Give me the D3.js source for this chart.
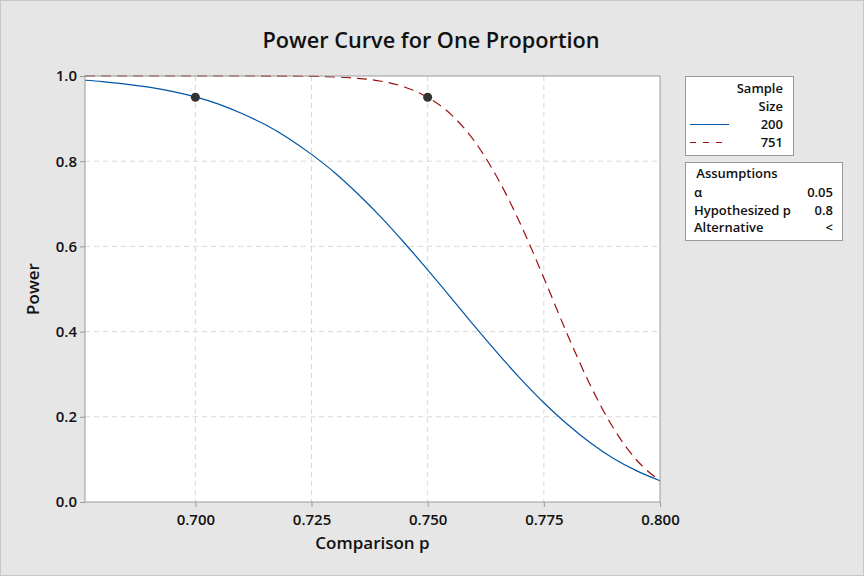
<!DOCTYPE html>
<html>
<head>
<meta charset="utf-8">
<script src="https://cdn.jsdelivr.net/npm/d3@7"></script>
<style>
  body { margin: 0; background: #e6e6e6; }
  svg { display: block; font-family: "Open Sans", "Noto Sans", sans-serif; }
</style>
</head>
<body>
<svg width="864" height="576"></svg>
<script>
// power curve values
let pValues = [0.67625, 0.68, 0.685, 0.69, 0.695, 0.70, 0.705, 0.71, 0.715, 0.72, 0.725, 0.73, 0.735, 0.74, 0.745,
  0.75, 0.755, 0.76, 0.765, 0.77, 0.775, 0.78, 0.785, 0.79, 0.795, 0.80];
let power200 = [0.990, 0.987, 0.981, 0.974, 0.964, 0.951, 0.934, 0.912, 0.886, 0.854, 0.816, 0.773, 0.723, 0.668, 0.608,
  0.545, 0.480, 0.414, 0.350, 0.289, 0.233, 0.183, 0.139, 0.102, 0.073, 0.050];
let power751 = [1.000, 1.000, 1.000, 1.000, 1.000, 1.000, 1.000, 1.000, 0.9999, 0.9997, 0.9991, 0.9977, 0.9945, 0.9877, 0.9743,
  0.950, 0.910, 0.848, 0.761, 0.652, 0.526, 0.395, 0.274, 0.173, 0.098, 0.050];
let sampleSizes = ["200", "751"];
let targetPoints = [[0.70, 0.95], [0.75, 0.95]];
let xTicks = [0.700, 0.725, 0.750, 0.775, 0.800];
let yTicks = [0.0, 0.2, 0.4, 0.6, 0.8, 1.0];
let assumptionLabels = ["\u03b1", "Hypothesized p", "Alternative"];
let assumptionValues = ["0.05", "0.8", "<"];

var svg = d3.select("svg");
var margin = { left: 85, right: 204, up: 76, down: 74 };
var width = 864 - margin.left - margin.right;
var height = 576 - margin.up - margin.down;

// outer frame
svg.append("rect")
    .attr("x", 0.5).attr("y", 0.5)
    .attr("width", 863).attr("height", 575)
    .attr("fill", "#e6e6e6")
    .attr("stroke", "#c8c8c8");

svg.append("text")
    .attr("x", 431).attr("y", 48)
    .attr("text-anchor", "middle")
    .style("font-size", "21.7px")
    .style("font-weight", 600)
    .attr("fill", "#111")
    .text("Power Curve for One Proportion");

var plot = svg.append("g")
    .attr("transform", "translate(" + margin.left + "," + margin.up + ")");

let xScale = d3.scaleLinear().domain([0.67625, 0.8]).range([0, width]);
let yScale = d3.scaleLinear().domain([0, 1]).range([height, 0]);

plot.append("rect")
    .attr("width", width).attr("height", height)
    .attr("fill", "white");

// dashed grid
plot.selectAll(".vgrid")
    .data(xTicks.filter(d => d < 0.8))
    .enter().append("line")
    .attr("x1", d => xScale(d)).attr("x2", d => xScale(d))
    .attr("y1", 0).attr("y2", height)
    .attr("stroke", "#d9d9d9")
    .attr("stroke-dasharray", "5,4");

plot.selectAll(".hgrid")
    .data(yTicks.filter(d => d > 0 && d < 1))
    .enter().append("line")
    .attr("x1", 0).attr("x2", width)
    .attr("y1", d => yScale(d)).attr("y2", d => yScale(d))
    .attr("stroke", "#d9d9d9")
    .attr("stroke-dasharray", "5,4");

let powerLine = d3.line()
    .x((d, i) => xScale(pValues[i]))
    .y(d => yScale(d))
    .curve(d3.curveMonotoneX);

plot.append("path")
    .datum(power200)
    .attr("d", powerLine)
    .attr("fill", "none")
    .attr("stroke", "#0054a6")
    .attr("stroke-width", 1.2);

plot.append("path")
    .datum(power751)
    .attr("d", powerLine)
    .attr("fill", "none")
    .attr("stroke", "#9b0f0f")
    .attr("stroke-width", 1.2)
    .attr("stroke-dasharray", "10,6");

plot.selectAll(".dot")
    .data(targetPoints)
    .enter().append("circle")
    .attr("cx", d => xScale(d[0]))
    .attr("cy", d => yScale(d[1]))
    .attr("r", 4.5)
    .attr("fill", "#333");

plot.append("rect")
    .attr("width", width).attr("height", height)
    .attr("fill", "none")
    .attr("stroke", "#9a9a9a");

// axes
let xAxis = d3.axisBottom(xScale).tickValues(xTicks).tickFormat(d3.format(".3f")).tickSizeOuter(0).tickSize(5);
let yAxis = d3.axisLeft(yScale).tickValues(yTicks).tickFormat(d3.format(".1f")).tickSizeOuter(0).tickSize(5);

let gx = plot.append("g")
    .attr("transform", "translate(0," + height + ")")
    .call(xAxis)
    .attr("font-family", null).attr("font-size", null);
gx.select(".domain").remove();
gx.selectAll("line").attr("stroke", "#9a9a9a");
gx.selectAll("text")
    .attr("dy", "1.0em")
    .style("font-size", "15px").style("font-weight", 600)
    .attr("fill", "#111");

let gy = plot.append("g").call(yAxis)
    .attr("font-family", null).attr("font-size", null);
gy.select(".domain").remove();
gy.selectAll("line").attr("stroke", "#9a9a9a");
gy.selectAll("text")
    .attr("x", -8)
    .style("font-size", "15px").style("font-weight", 600)
    .attr("fill", "#111");

svg.append("text")
    .attr("x", margin.left + width / 2).attr("y", 549)
    .attr("text-anchor", "middle")
    .style("font-size", "17px").style("font-weight", 600)
    .attr("fill", "#111")
    .text("Comparison p");

svg.append("text")
    .attr("transform", "translate(39," + (margin.up + height / 2) + ") rotate(-90)")
    .attr("text-anchor", "middle")
    .style("font-size", "17px").style("font-weight", 600)
    .attr("fill", "#111")
    .text("Power");

// legend: sample size
let legend = svg.append("g").attr("transform", "translate(685,76)");
legend.append("rect")
    .attr("x", 0.5).attr("y", 0.5)
    .attr("width", 108).attr("height", 79)
    .attr("fill", "white").attr("stroke", "#9a9a9a");
legend.selectAll(".hd")
    .data(["Sample", "Size"])
    .enter().append("text")
    .attr("x", 98).attr("y", (d, i) => 17 + i * 18)
    .attr("text-anchor", "end")
    .style("font-size", "13px").style("font-weight", 600)
    .attr("fill", "#111")
    .text(d => d);
legend.selectAll(".ln")
    .data(sampleSizes)
    .enter().append("line")
    .attr("x1", 5).attr("x2", 44)
    .attr("y1", (d, i) => 48.5 + i * 18).attr("y2", (d, i) => 48.5 + i * 18)
    .attr("stroke", (d, i) => i == 0 ? "#0054a6" : "#9b0f0f")
    .attr("stroke-width", 1.2)
    .attr("stroke-dasharray", (d, i) => i == 0 ? null : "6,7");
legend.selectAll(".lab")
    .data(sampleSizes)
    .enter().append("text")
    .attr("x", 98).attr("y", (d, i) => 53 + i * 18)
    .attr("text-anchor", "end")
    .style("font-size", "13px").style("font-weight", 600)
    .attr("fill", "#111")
    .text(d => d);

// assumptions table
let assume = svg.append("g").attr("transform", "translate(685,162)");
assume.append("rect")
    .attr("x", 0.5).attr("y", 0.5)
    .attr("width", 157).attr("height", 78)
    .attr("fill", "white").attr("stroke", "#9a9a9a");
assume.append("text")
    .attr("x", 52).attr("y", 16)
    .attr("text-anchor", "middle")
    .style("font-size", "13px").style("font-weight", 600)
    .attr("fill", "#111")
    .text("Assumptions");
assume.selectAll(".al")
    .data(assumptionLabels)
    .enter().append("text")
    .attr("x", 9).attr("y", (d, i) => 35 + i * 17.5)
    .style("font-size", "13px").style("font-weight", 600)
    .attr("fill", "#111")
    .text(d => d);
assume.selectAll(".av")
    .data(assumptionValues)
    .enter().append("text")
    .attr("x", 148).attr("y", (d, i) => 35 + i * 17.5)
    .attr("text-anchor", "end")
    .style("font-size", "13px").style("font-weight", 600)
    .attr("fill", "#111")
    .text(d => d);
</script>
</body>
</html>
